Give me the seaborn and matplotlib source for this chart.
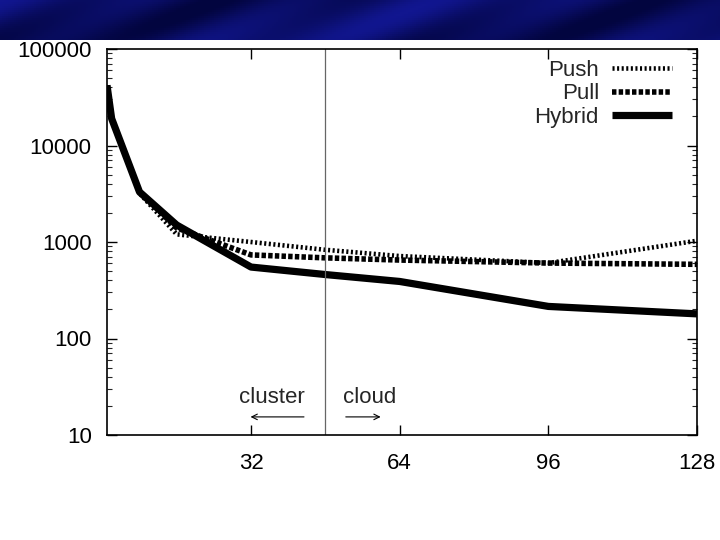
import numpy as np
import pandas as pd
import matplotlib
matplotlib.use("Agg")
import matplotlib.pyplot as plt
import seaborn as sns

# values (log y)
x_vals = [1, 2, 8, 16, 32, 48, 64, 96, 128]
push = [42000, 19000, 3200, 1200, 1000, 830, 715, 605, 1030]
pull = [42000, 19000, 3300, 1400, 735, 685, 650, 605, 587]
hybrid = [42000, 19000, 3300, 1500, 550, 460, 390, 215, 180]
series_names = ["Push", "Pull", "Hybrid"]
x_ticks = [32, 64, 96, 128]
y_ticks = [10, 100, 1000, 10000, 100000]
split_x = 48

df = pd.DataFrame({"x": x_vals, "Push": push, "Pull": pull, "Hybrid": hybrid})

sns.set_style("ticks")
plt.rcParams["font.family"] = ["Liberation Sans", "DejaVu Sans"]
FS = 16

fig = plt.figure(figsize=(7.2, 5.4), dpi=100)

# blue slide banner on top
ban = fig.add_axes([0, 1 - 40 / 540, 1, 40 / 540])
gx = np.linspace(0, 1, 360)
gy = np.linspace(0, 1, 20)
GX, GY = np.meshgrid(gx, gy)
shade = 0.45 + 0.3 * np.cos(2 * np.pi * (GX * 1.6 + GY * 0.35)) + 0.2 * np.cos(2 * np.pi * (GX * 5.0 + GY * 0.6))
shade = np.clip(shade, 0, 1)
rgb = np.zeros(GX.shape + (3,))
rgb[..., 0] = 0.01 + 0.06 * shade
rgb[..., 1] = 0.02 + 0.07 * shade
rgb[..., 2] = 0.25 + 0.33 * shade
ban.imshow(rgb, aspect="auto", extent=[0, 1, 0, 1])
ban.axis("off")

ax = fig.add_axes([107 / 720, 1 - 435 / 540, 590 / 720, 386 / 540])

styles = {
    "Push": dict(lw=3.3, linestyle=(0, (0.45, 0.55))),
    "Pull": dict(lw=4.0, linestyle=(0, (0.8, 0.4))),
    "Hybrid": dict(lw=5.2, linestyle="-"),
}
for name in series_names:
    sns.lineplot(data=df, x="x", y=name, ax=ax, color="black", label=name,
                 solid_capstyle="butt", dash_capstyle="butt", **styles[name])

ax.axvline(split_x, color="#666666", lw=0.9)

ax.set_yscale("log")
ax.set_xlim(1, 128)
ax.set_ylim(10, 100000)
ax.set_xticks(x_ticks)
ax.set_xticklabels([str(t) for t in x_ticks])
ax.set_yticks(y_ticks)
ax.set_yticklabels([str(t) for t in y_ticks])
ax.set_xlabel("")
ax.set_ylabel("")
ax.tick_params(axis="both", which="major", direction="in", length=7, width=1.0,
               top=True, right=True, labelsize=FS, colors="black")
ax.tick_params(axis="x", pad=13)
ax.tick_params(axis="y", pad=11)
ax.tick_params(axis="y", which="minor", direction="in", length=3.5, width=0.8,
               left=True, right=True)
ax.tick_params(axis="x", which="minor", bottom=False, top=False)
for sp in ax.spines.values():
    sp.set_visible(True)
    sp.set_linewidth(1.2)
    sp.set_color("black")

# region annotations
ax.text(36.5, 24.2, "cluster", ha="center", va="center", fontsize=FS)
ax.text(51.8, 24.2, "cloud", ha="left", va="center", fontsize=FS)
ax.annotate("", xy=(31.3, 15.4), xytext=(44, 15.4),
            arrowprops=dict(arrowstyle="->", color="black", lw=0.8))
ax.annotate("", xy=(60.5, 15.4), xytext=(51.8, 15.4),
            arrowprops=dict(arrowstyle="->", color="black", lw=0.8))

ax.legend(loc="upper right", bbox_to_anchor=(0.977, 1.0), frameon=False,
          markerfirst=False, fontsize=FS, handlelength=2.7, handletextpad=0.6,
          labelspacing=0.1, borderaxespad=0.1)

fig.savefig("out.png", dpi=100)
